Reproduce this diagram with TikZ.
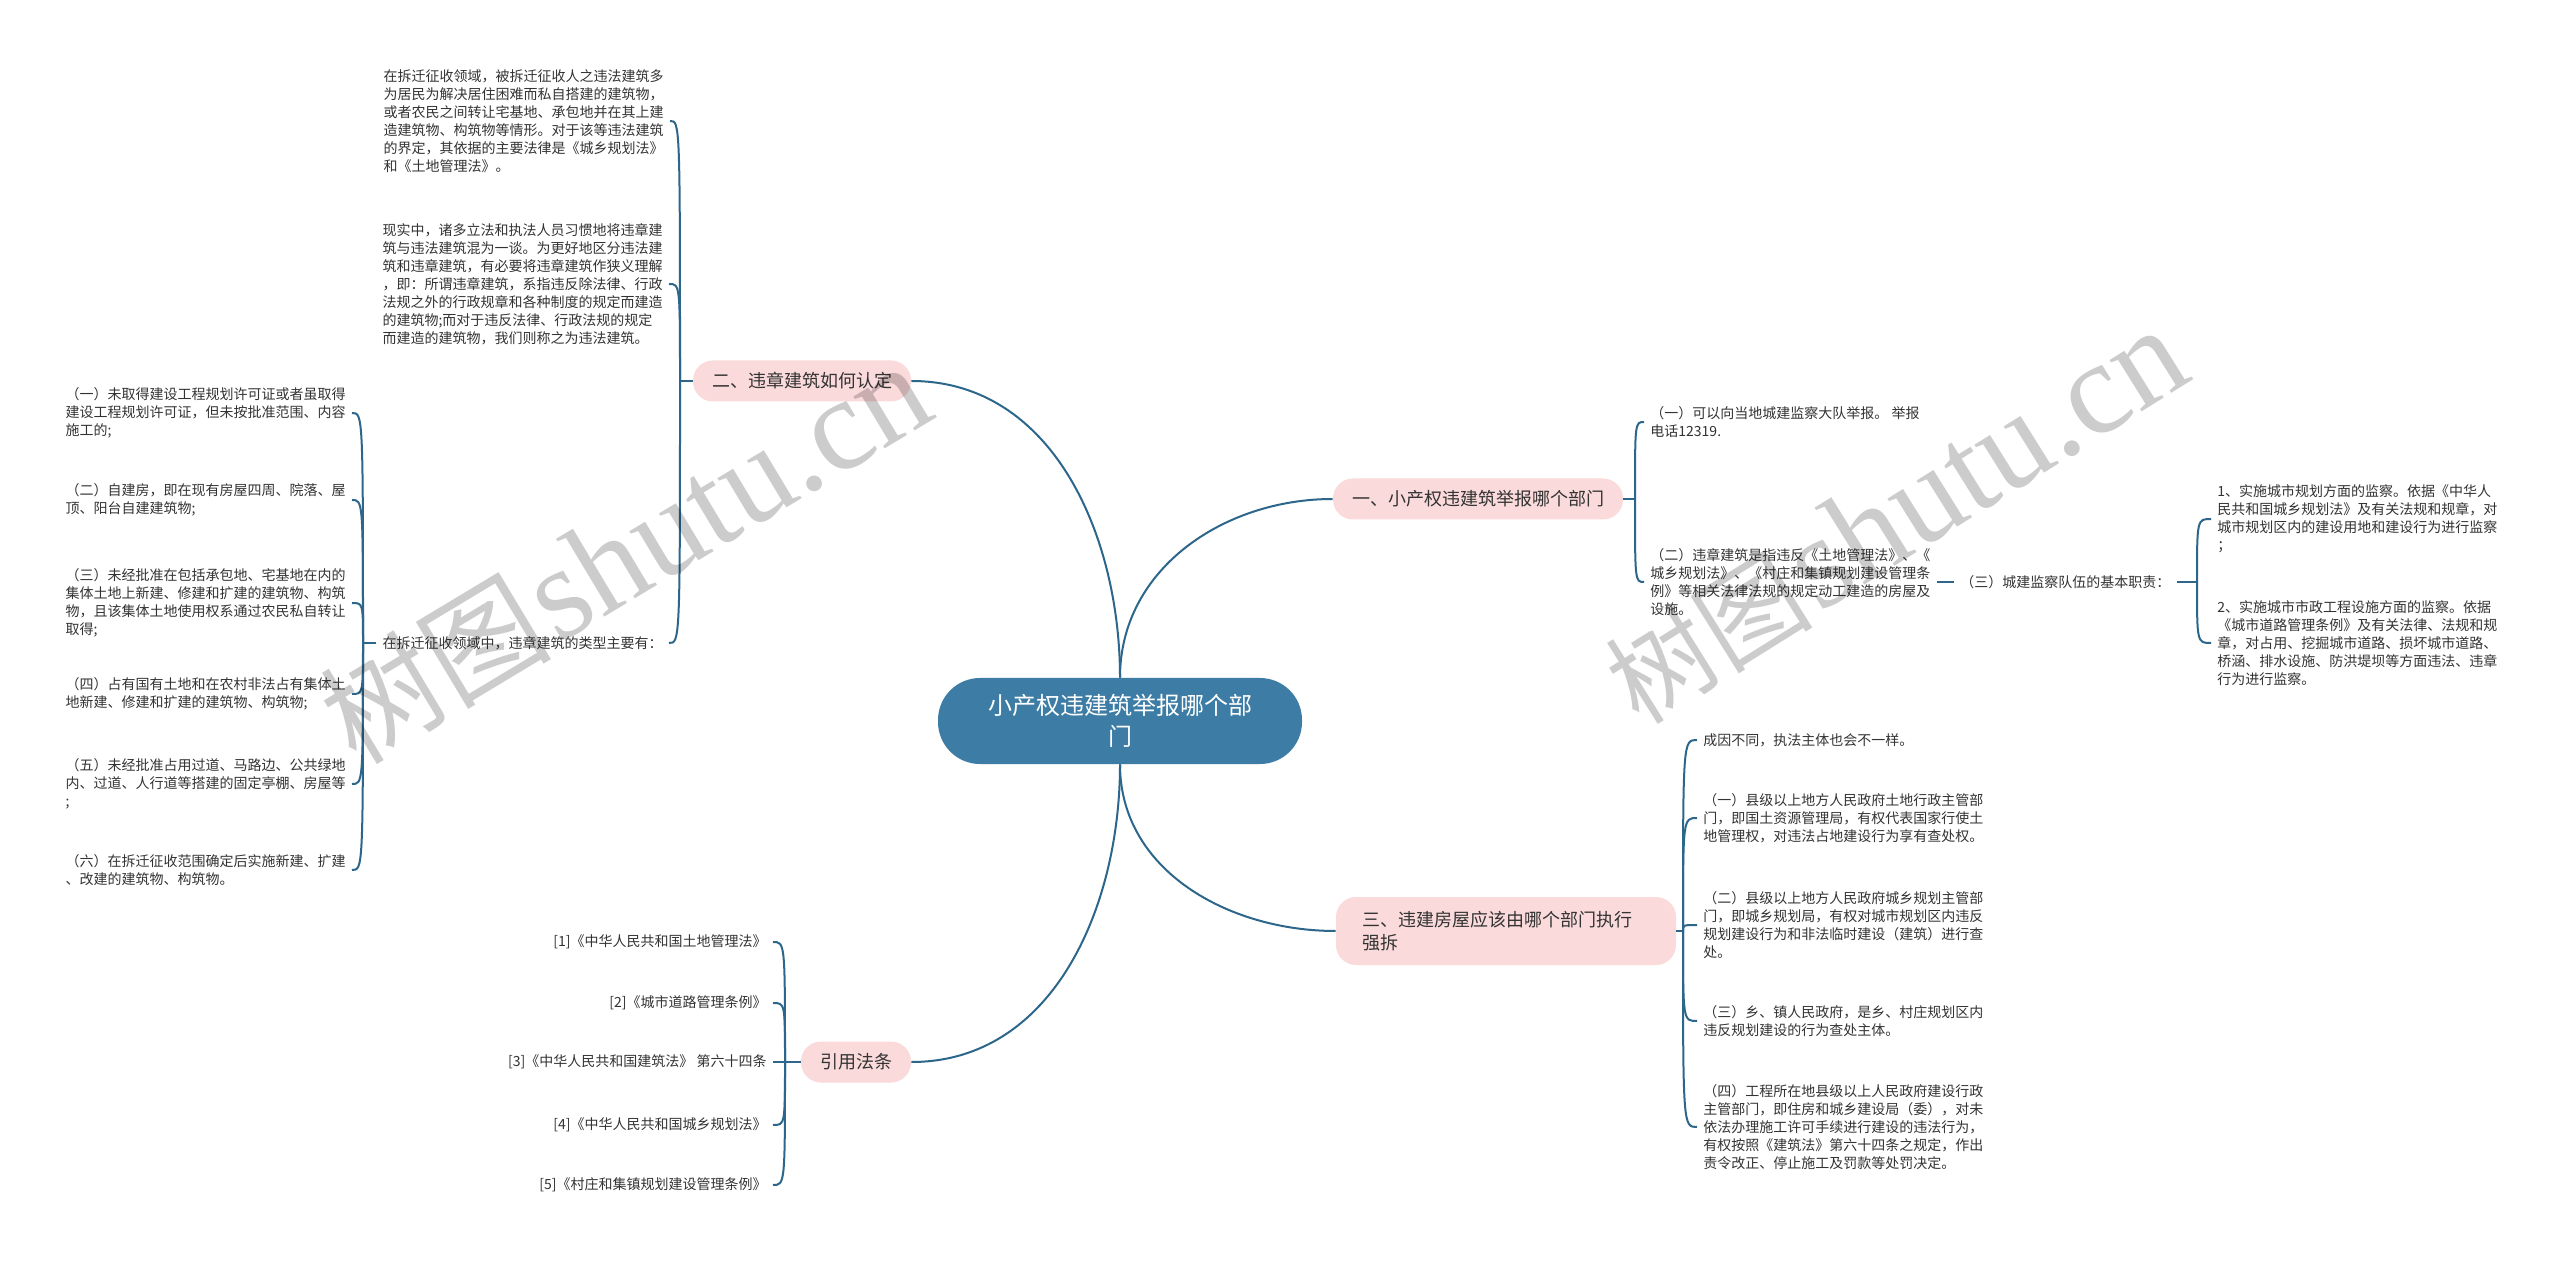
\documentclass[tikz,border=0pt]{standalone}
\usepackage{fontspec}
\setmainfont{Noto Sans CJK SC}
\newfontfamily\wmfont{Liberation Serif}
\usetikzlibrary{calc}
\definecolor{linkblue}{HTML}{2D668B}
\definecolor{rootblue}{HTML}{3D7CA4}
\definecolor{topicpink}{HTML}{FADADA}
\definecolor{leafgray}{HTML}{333333}
\def\hookto(#1)(#2){\draw[link] (#1) .. controls (#1 |- #2) and (#1 |- #2) .. (#2);}
\tikzset{
  link/.style={draw=linkblue, line width=1pt},
  rootbox/.style={fill=rootblue, text=white, rounded corners=21pt, minimum width=182pt, minimum height=43pt, align=center, font=\fontsize{12pt}{15.5pt}\selectfont},
  topicbox/.style={fill=topicpink, text=leafgray, rounded corners=10pt, inner xsep=9.5pt, minimum height=20.5pt, font=\fontsize{9pt}{11.5pt}\selectfont},
  leaf/.style={text=leafgray, align=left, inner xsep=3pt, inner ysep=1pt, font=\fontsize{7pt}{9pt}\selectfont},
  watermark/.style={text=black, opacity=0.2, anchor=base west, rotate=31}
}

\begin{document}
\begin{tikzpicture}[x=0.5pt, y=-0.5pt]
			%%%%% START %%%%%
			
			\fill[white] (0,0) rectangle (2560,1261);
			\useasboundingbox (0,0) rectangle (2560,1261);
			
			\node[rootbox] (root) at (1120,721) {小产权违建筑举报哪个部\\门};
			\node[topicbox] (two) at (802,381) {二、违章建筑如何认定};
			\node[topicbox] (one) at (1478,499) {一、小产权违建筑举报哪个部门};
			\node[topicbox, text width=144pt, align=left, inner xsep=13pt, minimum height=34pt] (three) at (1506,931) {三、违建房屋应该由哪个部门执行\\强拆};
			\node[topicbox] (cite) at (856,1062) {引用法条};
			
			\draw[link] (root.north) to[out=90,in=0] (two.east);
			\draw[link] (root.north) to[out=90,in=180] (one.west);
			\draw[link] (root.south) to[out=-90,in=180] (three.west);
			\draw[link] (root.south) to[out=-90,in=0] (cite.east);
			
			\coordinate (jtwo) at (680,381);
			\coordinate (jkind) at (363,643);
			\coordinate (jone) at (1635,499);
			\coordinate (jduty) at (2197,582);
			\coordinate (jthree) at (1683,931);
			\coordinate (jcite) at (785,1062);
			
			\node[leaf, anchor=east] (twoa) at (670,121) {在拆迁征收领域，被拆迁征收人之违法建筑多\\为居民为解决居住困难而私自搭建的建筑物，\\或者农民之间转让宅基地、承包地并在其上建\\造建筑物、构筑物等情形。对于该等违法建筑\\的界定，其依据的主要法律是《城乡规划法》\\和《土地管理法》。};
			\node[leaf, anchor=east] (twob) at (669,284) {现实中，诸多立法和执法人员习惯地将违章建\\筑与违法建筑混为一谈。为更好地区分违法建\\筑和违章建筑，有必要将违章建筑作狭义理解\\，即：所谓违章建筑，系指违反除法律、行政\\法规之外的行政规章和各种制度的规定而建造\\的建筑物;而对于违反法律、行政法规的规定\\而建造的建筑物，我们则称之为违法建筑。};
			\node[leaf, anchor=east] (kind) at (669,643) {在拆迁征收领域中，违章建筑的类型主要有：};
			
			\node[leaf, anchor=east] (kinda) at (352,413) {（一）未取得建设工程规划许可证或者虽取得\\建设工程规划许可证，但未按批准范围、内容\\施工的;};
			\node[leaf, anchor=east] (kindb) at (352,500) {（二）自建房，即在现有房屋四周、院落、屋\\顶、阳台自建建筑物;};
			\node[leaf, anchor=east] (kindc) at (352,603) {（三）未经批准在包括承包地、宅基地在内的\\集体土地上新建、修建和扩建的建筑物、构筑\\物，且该集体土地使用权系通过农民私自转让\\取得;};
			\node[leaf, anchor=east] (kindd) at (352,694) {（四）占有国有土地和在农村非法占有集体土\\地新建、修建和扩建的建筑物、构筑物;};
			\node[leaf, anchor=east] (kinde) at (352,784) {（五）未经批准占用过道、马路边、公共绿地\\内、过道、人行道等搭建的固定亭棚、房屋等\\;};
			\node[leaf, anchor=east] (kindf) at (352,870) {（六）在拆迁征收范围确定后实施新建、扩建\\、改建的建筑物、构筑物。};
			
			\draw[link] (two.west) -- (jtwo);
			\hookto(jtwo)(twoa.east)
			\hookto(jtwo)(twob.east)
			\hookto(jtwo)(kind.east)
			\draw[link] (kind.west) -- (jkind);
			\hookto(jkind)(kinda.east)
			\hookto(jkind)(kindb.east)
			\hookto(jkind)(kindc.east)
			\hookto(jkind)(kindd.east)
			\hookto(jkind)(kinde.east)
			\hookto(jkind)(kindf.east)
			
			\node[leaf, anchor=west] (onea) at (1644,422) {（一）可以向当地城建监察大队举报。 举报\\电话12319.};
			\node[leaf, anchor=west] (oneb) at (1644,582) {（二）违章建筑是指违反《土地管理法》、《\\城乡规划法》、《村庄和集镇规划建设管理条\\例》等相关法律法规的规定动工建造的房屋及\\设施。};
			\node[leaf, anchor=west] (duty) at (1954,582) {（三）城建监察队伍的基本职责：};
			\node[leaf, anchor=west] (dutya) at (2211,519) {1、实施城市规划方面的监察。依据《中华人\\民共和国城乡规划法》及有关法规和规章，对\\城市规划区内的建设用地和建设行为进行监察\\；};
			\node[leaf, anchor=west] (dutyb) at (2211,643) {2、实施城市市政工程设施方面的监察。依据\\《城市道路管理条例》及有关法律、法规和规\\章，对占用、挖掘城市道路、损坏城市道路、\\桥涵、排水设施、防洪堤坝等方面违法、违章\\行为进行监察。};
			
			\draw[link] (one.east) -- (jone);
			\hookto(jone)(onea.west)
			\hookto(jone)(oneb.west)
			\draw[link] (oneb.east) -- (duty.west);
			\draw[link] (duty.east) -- (jduty);
			\hookto(jduty)(dutya.west)
			\hookto(jduty)(dutyb.west)
			
			\node[leaf, anchor=west] (threea) at (1697,740) {成因不同，执法主体也会不一样。};
			\node[leaf, anchor=west] (threeb) at (1697,818) {（一）县级以上地方人民政府土地行政主管部\\门，即国土资源管理局，有权代表国家行使土\\地管理权，对违法占地建设行为享有查处权。};
			\node[leaf, anchor=west] (threec) at (1697,925) {（二）县级以上地方人民政府城乡规划主管部\\门，即城乡规划局，有权对城市规划区内违反\\规划建设行为和非法临时建设（建筑）进行查\\处。};
			\node[leaf, anchor=west] (threed) at (1697,1021) {（三）乡、镇人民政府，是乡、村庄规划区内\\违反规划建设的行为查处主体。};
			\node[leaf, anchor=west] (threee) at (1697,1127) {（四）工程所在地县级以上人民政府建设行政\\主管部门，即住房和城乡建设局（委），对未\\依法办理施工许可手续进行建设的违法行为，\\有权按照《建筑法》第六十四条之规定，作出\\责令改正、停止施工及罚款等处罚决定。};
			
			\draw[link] (three.east) -- (jthree);
			\hookto(jthree)(threea.west)
			\hookto(jthree)(threeb.west)
			\hookto(jthree)(threec.west)
			\hookto(jthree)(threed.west)
			\hookto(jthree)(threee.west)
			
			\node[leaf, anchor=east] (citea) at (773,942) {[1]《中华人民共和国土地管理法》};
			\node[leaf, anchor=east] (citeb) at (773,1003) {[2]《城市道路管理条例》};
			\node[leaf, anchor=east] (citec) at (773,1062) {[3]《中华人民共和国建筑法》 第六十四条};
			\node[leaf, anchor=east] (cited) at (773,1125) {[4]《中华人民共和国城乡规划法》};
			\node[leaf, anchor=east] (citee) at (773,1185) {[5]《村庄和集镇规划建设管理条例》};
			
			\draw[link] (cite.west) -- (jcite);
			\hookto(jcite)(citea.east)
			\hookto(jcite)(citeb.east)
			\hookto(jcite)(citec.east)
			\hookto(jcite)(cited.east)
			\hookto(jcite)(citee.east)
			
			\node[watermark] (marka) at (350,770) {{\fontsize{58pt}{58pt}\selectfont 树图} {\wmfont\fontsize{66pt}{66pt}\selectfont shutu.cn}};
			\node[watermark, rotate=1] (markb) at (1633,730) {{\fontsize{52pt}{52pt}\selectfont 树图} {\wmfont\fontsize{66pt}{66pt}\selectfont shutu.cn}};
			
			%%%%% END %%%%%
\end{tikzpicture}
\end{document}
